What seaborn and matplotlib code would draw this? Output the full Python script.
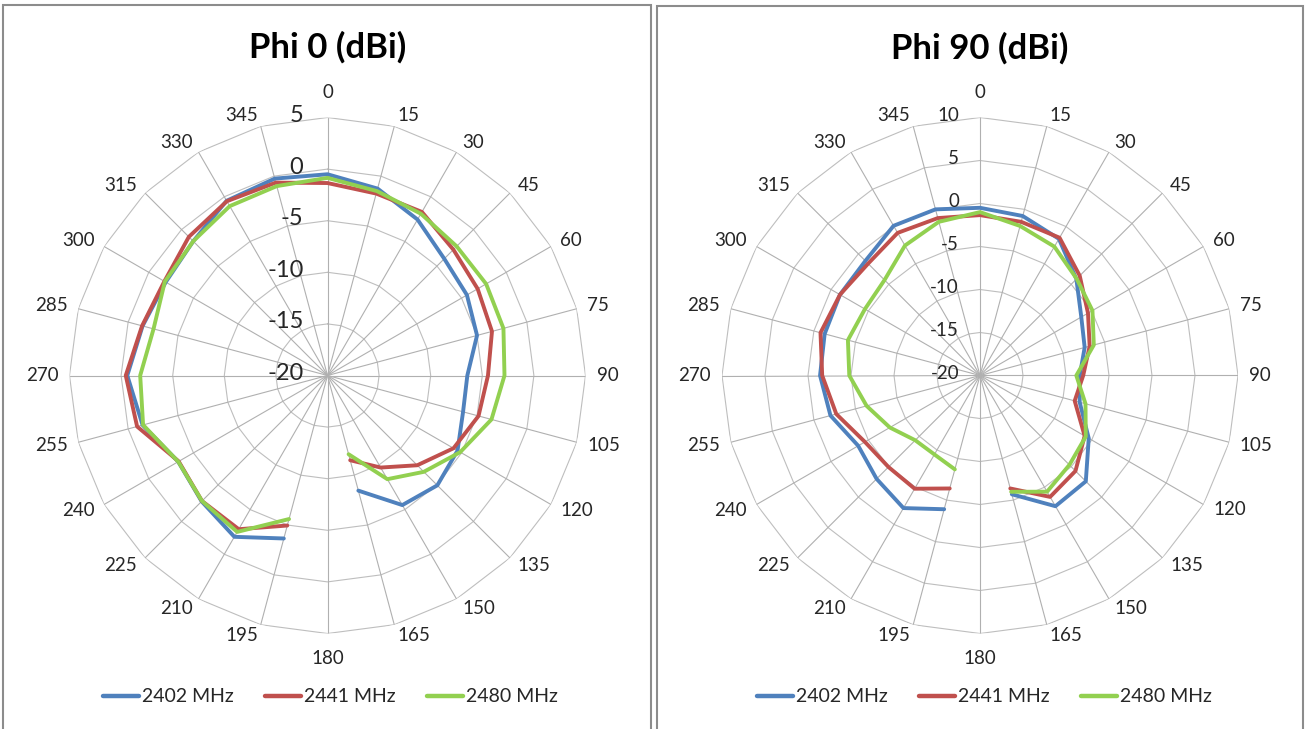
import numpy as np
import pandas as pd
import seaborn as sns
import matplotlib
matplotlib.use("Agg")
import matplotlib.pyplot as plt
from matplotlib.lines import Line2D
from matplotlib.patches import Rectangle

# ---------------- data ----------------
ANGLES = list(range(0, 360, 15))
FREQS = ["2402 MHz", "2441 MHz", "2480 MHz"]
COLORS = ["#4F81BD", "#C0504D", "#92D050"]
nan = np.nan

# Phi 0 (dBi), one value per angle 0..345 (180 not measured)
PHI0_2402 = [-0.5, -1.25, -2.55, -4.0, -4.4, -5.0, -6.45, -6.4, -5.45, -4.95, -5.5, -8.45,
             nan, -3.65, -1.95, -2.75, -3.3, -1.45, -0.6, -1.45, -1.9, -1.6, -0.45, -0.25]
PHI0_2441 = [-1.35, -1.75, -1.7, -2.75, -3.2, -3.5, -4.45, -4.85, -5.9, -7.7, -9.7, -11.5,
             nan, -4.95, -2.8, -2.8, -3.35, -0.9, -0.45, -1.4, -1.75, -1.0, -0.5, -0.65]
PHI0_2480 = [-0.85, -1.5, -1.9, -2.3, -2.25, -2.35, -2.85, -3.55, -5.15, -6.8, -8.4, -12.1,
             nan, -5.6, -2.5, -2.8, -3.3, -1.5, -1.85, -2.55, -1.8, -1.6, -1.05, -1.0]

# Phi 90 (dBi)
PHI90_2402 = [-0.5, -0.8, -1.65, -4.15, -6.4, -7.4, -8.4, -8.0, -5.4, -2.6, -2.45, -5.7,
              nan, -3.9, -2.2, -3.0, -3.65, -2.0, -1.4, -1.3, -1.2, -1.15, 0.1, 0.0]
PHI90_2441 = [-1.35, -1.5, -1.5, -3.6, -5.5, -6.8, -8.0, -8.6, -5.95, -4.3, -3.7, -6.4,
              nan, -6.4, -4.8, -4.95, -4.55, -2.7, -1.65, -0.8, -1.2, -1.6, -0.85, -1.05]
PHI90_2480 = [-1.0, -2.0, -2.7, -4.1, -4.9, -6.3, -8.8, -7.3, -5.8, -5.3, -4.4, -6.0,
              nan, -8.7, -9.4, -9.35, -7.9, -6.35, -4.8, -4.1, -4.55, -4.3, -2.55, -1.5]

PANELS = [
    dict(title="Phi 0 (dBi)", series=[PHI0_2402, PHI0_2441, PHI0_2480],
         rmin=-20, rmax=5, rstep=5),
    dict(title="Phi 90 (dBi)", series=[PHI90_2402, PHI90_2441, PHI90_2480],
         rmin=-20, rmax=10, rstep=5),
]

# ---------------- style ----------------
sns.set_style("white")
plt.rcParams["font.family"] = ["Lato", "DejaVu Sans"]
GRID = "#BEBEBE"
SPOKE = "#B0B0B0"
TEXT = "#262626"

W, H = 1305, 729
fig = plt.figure(figsize=(W / 100, H / 100), dpi=100)

R_PX = 258
centers = [(327.5, 375.5), (980.0, 375.5)]
radial_fs = [17, 13.5]
radial_off = [24, 21]
title_y = [47, 48]
legend_cx = [330.5, 984.5]


def build_frame(series):
    rows = []
    for name, vals in zip(FREQS, series):
        for a, v in zip(ANGLES, vals):
            if np.isnan(v):
                continue
            # unwrap so that the open gap sits at 180 degrees
            deg = a + 360 if a < 180 else a
            rows.append((np.deg2rad(deg), v, name))
    return pd.DataFrame(rows, columns=["theta", "gain", "freq"])


for i, p in enumerate(PANELS):
    cx, cy = centers[i]
    ax = fig.add_axes([(cx - R_PX) / W, (H - cy - R_PX) / H, 2 * R_PX / W, 2 * R_PX / H],
                      projection="polar")
    ax.set_theta_zero_location("N")
    ax.set_theta_direction(-1)
    ax.grid(False)
    ax.spines["polar"].set_visible(False)
    ax.patch.set_alpha(0)

    rmin, rmax, rstep = p["rmin"], p["rmax"], p["rstep"]
    ring_vals = np.arange(rmin + rstep, rmax + 0.01, rstep)
    th = np.deg2rad(np.arange(0, 361, 15))
    for r in ring_vals:
        ax.plot(th, np.full_like(th, r, dtype=float), color=GRID, lw=0.8, zorder=1)
    for a in ANGLES:
        ax.plot([np.deg2rad(a)] * 2, [rmin, rmax], color=SPOKE, lw=0.8, zorder=1)

    df = build_frame(p["series"])
    sns.lineplot(data=df, x="theta", y="gain", hue="freq", hue_order=FREQS,
                 palette=COLORS, estimator=None, sort=True, legend=False,
                 linewidth=2.8, ax=ax, zorder=3, solid_joinstyle="round")
    ax.set_xlabel("")
    ax.set_ylabel("")
    ax.set_xticks([])
    ax.set_yticks([])
    ax.set_ylim(rmin, rmax)

    # category (angle) labels
    for a in ANGLES:
        t = np.deg2rad(a)
        s, c = np.sin(t), np.cos(t)
        if abs(s) < 1e-6:
            off = (0, 16 * 0.72 if c > 0 else -16 * 0.72)
            ha, va = "center", ("bottom" if c > 0 else "top")
        else:
            off = (11 * s * 0.72, 11 * c * 0.72)
            ha, va = ("left" if s > 0 else "right"), "center"
        ax.annotate(str(a), xy=(t, rmax), xytext=off, textcoords="offset points",
                    ha=ha, va=va, fontsize=13.5, color=TEXT, annotation_clip=False)

    # radial value labels
    for r in np.arange(rmin, rmax + 0.01, rstep):
        ax.annotate(f"{int(r)}", xy=(0, r), xytext=(-radial_off[i] * 0.72, 1.5),
                    textcoords="offset points", ha="right", va="center",
                    fontsize=radial_fs[i], color=TEXT, annotation_clip=False)

    fig.text(cx / W, 1 - title_y[i] / H, p["title"], ha="center", va="center",
             fontsize=25, fontweight="bold", color="black")

    handles = [Line2D([], [], color=col, lw=3.2) for col in COLORS]
    fig.legend(handles, FREQS, loc="center", bbox_to_anchor=(legend_cx[i] / W, 1 - 697 / H),
               ncol=3, frameon=False, fontsize=14, handlelength=1.85, handletextpad=0.12,
               columnspacing=1.65, labelcolor=TEXT)

# chart-area borders
for x0, x1, y0 in [(3, 651, 5), (657, 1303, 6)]:
    fig.add_artist(Rectangle((x0 / W, -0.05), (x1 - x0) / W, 1 - y0 / H + 0.05,
                             transform=fig.transFigure, fill=False, ec="#8C8C8C", lw=1.5))

fig.savefig("out.png", dpi=100)
